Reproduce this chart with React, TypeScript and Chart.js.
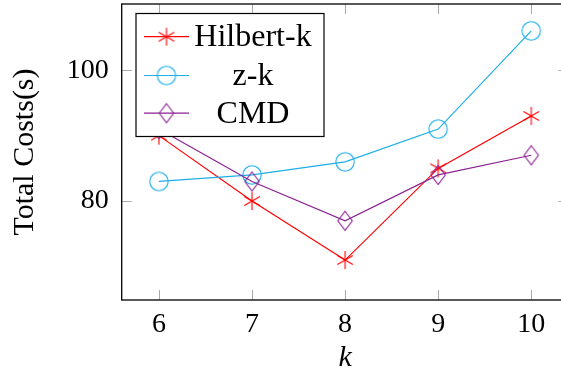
import React, { useEffect, useRef } from 'react';
import { Chart, registerables } from 'chart.js';

Chart.register(...registerables);

const kValues = [6, 7, 8, 9, 10];
const hilbertK = [90, 80, 71, 85, 93];
const zK = [83, 84, 86, 91, 106];
const cmd = [91, 83, 77, 84, 87];
const seriesLabels = ['Hilbert-k', 'z-k', 'CMD'];
const yTickValues = [80, 100];
const xTickValues = kValues;

const RED = '#ff0000';
const CYAN = '#1eaee8';
const PURPLE = '#8b2292';
const SERIF = "'Liberation Serif', 'Times New Roman', serif";

function makeMarker(kind: string, color: string): HTMLCanvasElement {
  const size = 24;
  const c = document.createElement('canvas');
  c.width = size;
  c.height = size;
  const ctx = c.getContext('2d')!;
  ctx.strokeStyle = color;
  ctx.lineWidth = 1.1;
  const m = size / 2;
  ctx.beginPath();
  if (kind === 'star') {
    const r = 9;
    [90, 30, -30].forEach((deg) => {
      const a = (deg * Math.PI) / 180;
      ctx.moveTo(m + r * Math.cos(a), m - r * Math.sin(a));
      ctx.lineTo(m - r * Math.cos(a), m + r * Math.sin(a));
    });
  } else if (kind === 'circle') {
    ctx.arc(m, m, 9.2, 0, Math.PI * 2);
  } else {
    ctx.moveTo(m, m - 9.5);
    ctx.lineTo(m + 7.2, m);
    ctx.lineTo(m, m + 9.5);
    ctx.lineTo(m - 7.2, m);
    ctx.closePath();
  }
  ctx.stroke();
  return c;
}

const framePlugin = {
  id: 'frame',
  afterDatasetsDraw(chart: any) {
    const { ctx, chartArea, scales } = chart;
    const { left, right, top, bottom } = chartArea;
    const x = scales.x;
    const y = scales.y;
    ctx.save();
    ctx.strokeStyle = '#a8a8a8';
    ctx.lineWidth = 1;
    const tl = 10;
    ctx.beginPath();
    x.ticks.forEach((t: any) => {
      const px = Math.round(x.getPixelForValue(t.value)) + 0.5;
      ctx.moveTo(px, bottom);
      ctx.lineTo(px, bottom - tl);
      ctx.moveTo(px, top);
      ctx.lineTo(px, top + tl);
    });
    y.ticks.forEach((t: any) => {
      const py = Math.round(y.getPixelForValue(t.value)) + 0.5;
      ctx.moveTo(left, py);
      ctx.lineTo(left + tl, py);
      ctx.moveTo(right, py);
      ctx.lineTo(right - tl, py);
    });
    ctx.stroke();
    ctx.strokeStyle = '#000';
    ctx.lineWidth = 1.3;
    ctx.strokeRect(left, top, right - left, bottom - top);
    ctx.restore();
  },
};

const legendPlugin = {
  id: 'boxLegend',
  afterDraw(chart: any) {
    const { ctx } = chart;
    const bx = 136, by = 13.5, bw = 188, bh = 123;
    ctx.save();
    ctx.fillStyle = '#fff';
    ctx.fillRect(bx, by, bw, bh);
    ctx.strokeStyle = '#000';
    ctx.lineWidth = 1.2;
    ctx.strokeRect(bx, by, bw, bh);
    const rows = [36.7, 75.5, 113.2];
    chart.data.datasets.forEach((ds: any, i: number) => {
      const ry = rows[i];
      ctx.strokeStyle = ds.borderColor;
      ctx.lineWidth = 1.2;
      ctx.beginPath();
      ctx.moveTo(144, ry);
      ctx.lineTo(189, ry);
      ctx.stroke();
      const img = ds.pointStyle as HTMLCanvasElement;
      ctx.drawImage(img, 166.5 - img.width / 2, ry - img.height / 2);
      ctx.fillStyle = '#000';
      ctx.font = `32px ${SERIF}`;
      ctx.textAlign = 'center';
      ctx.textBaseline = 'alphabetic';
      ctx.fillText(ds.label, 253, ry + 9.3);
    });
    ctx.restore();
  },
};

export default function App() {
  const ref = useRef<HTMLCanvasElement | null>(null);

  useEffect(() => {
    if (!ref.current) return;
    const toPts = (vals: number[]) => kValues.map((k, i) => ({ x: k, y: vals[i] }));
    const series = [
      { label: seriesLabels[0], vals: hilbertK, color: RED, marker: 'star', order: 3 },
      { label: seriesLabels[1], vals: zK, color: CYAN, marker: 'circle', order: 2 },
      { label: seriesLabels[2], vals: cmd, color: PURPLE, marker: 'diamond', order: 1 },
    ];
    const chart = new Chart(ref.current, {
      type: 'line',
      data: {
        datasets: series.map((s) => ({
          label: s.label,
          data: toPts(s.vals),
          borderColor: s.color,
          backgroundColor: s.color,
          borderWidth: 1.2,
          pointStyle: makeMarker(s.marker, s.color) as any,
          pointRadius: 9,
          tension: 0,
          fill: false,
          order: s.order,
        })),
      },
      options: {
        animation: false,
        responsive: false,
        maintainAspectRatio: false,
        layout: { autoPadding: false, padding: { top: 4, left: 0, right: 6.5, bottom: 0 } },
        plugins: { legend: { display: false }, tooltip: { enabled: false } },
        scales: {
          x: {
            type: 'linear',
            min: 5.6,
            max: 10.4,
            grid: { display: false, drawTicks: false },
            border: { display: false },
            afterBuildTicks: (s: any) => {
              s.ticks = xTickValues.map((v) => ({ value: v }));
            },
            afterFit: (s: any) => {
              s.height = 80;
              s.paddingLeft = 0;
              s.paddingRight = 0;
            },
            ticks: {
              color: '#000',
              padding: 8,
              maxRotation: 0,
              font: { family: SERIF, size: 28 },
              callback: (v: any) => String(v),
            },
            title: {
              display: true,
              text: 'k',
              color: '#000',
              padding: { top: 0, bottom: 4 },
              font: { family: SERIF, size: 30, style: 'italic' },
            },
          },
          y: {
            type: 'linear',
            min: 64.9,
            max: 110.1,
            grid: { display: false, drawTicks: false },
            border: { display: false },
            afterBuildTicks: (s: any) => {
              s.ticks = yTickValues.map((v) => ({ value: v }));
            },
            afterFit: (s: any) => {
              s.width = 121.7;
              s.paddingTop = 0;
              s.paddingBottom = 0;
            },
            ticks: {
              color: '#000',
              padding: 13,
              font: { family: SERIF, size: 28 },
              callback: (v: any) => String(v),
            },
            title: {
              display: true,
              text: 'Total Costs(s)',
              color: '#000',
              padding: { top: 7, bottom: 0 },
              font: { family: SERIF, size: 30 },
            },
          },
        },
      },
      plugins: [framePlugin, legendPlugin],
    });
    return () => chart.destroy();
  }, []);

  return (
    <div
      style={{
        position: 'absolute',
        left: 0,
        top: 0,
        width: 561,
        height: 380,
        overflow: 'hidden',
        background: '#fff',
      }}
    >
      <canvas ref={ref} width={575} height={380} style={{ width: 575, height: 380, display: 'block' }} />
    </div>
  );
}
